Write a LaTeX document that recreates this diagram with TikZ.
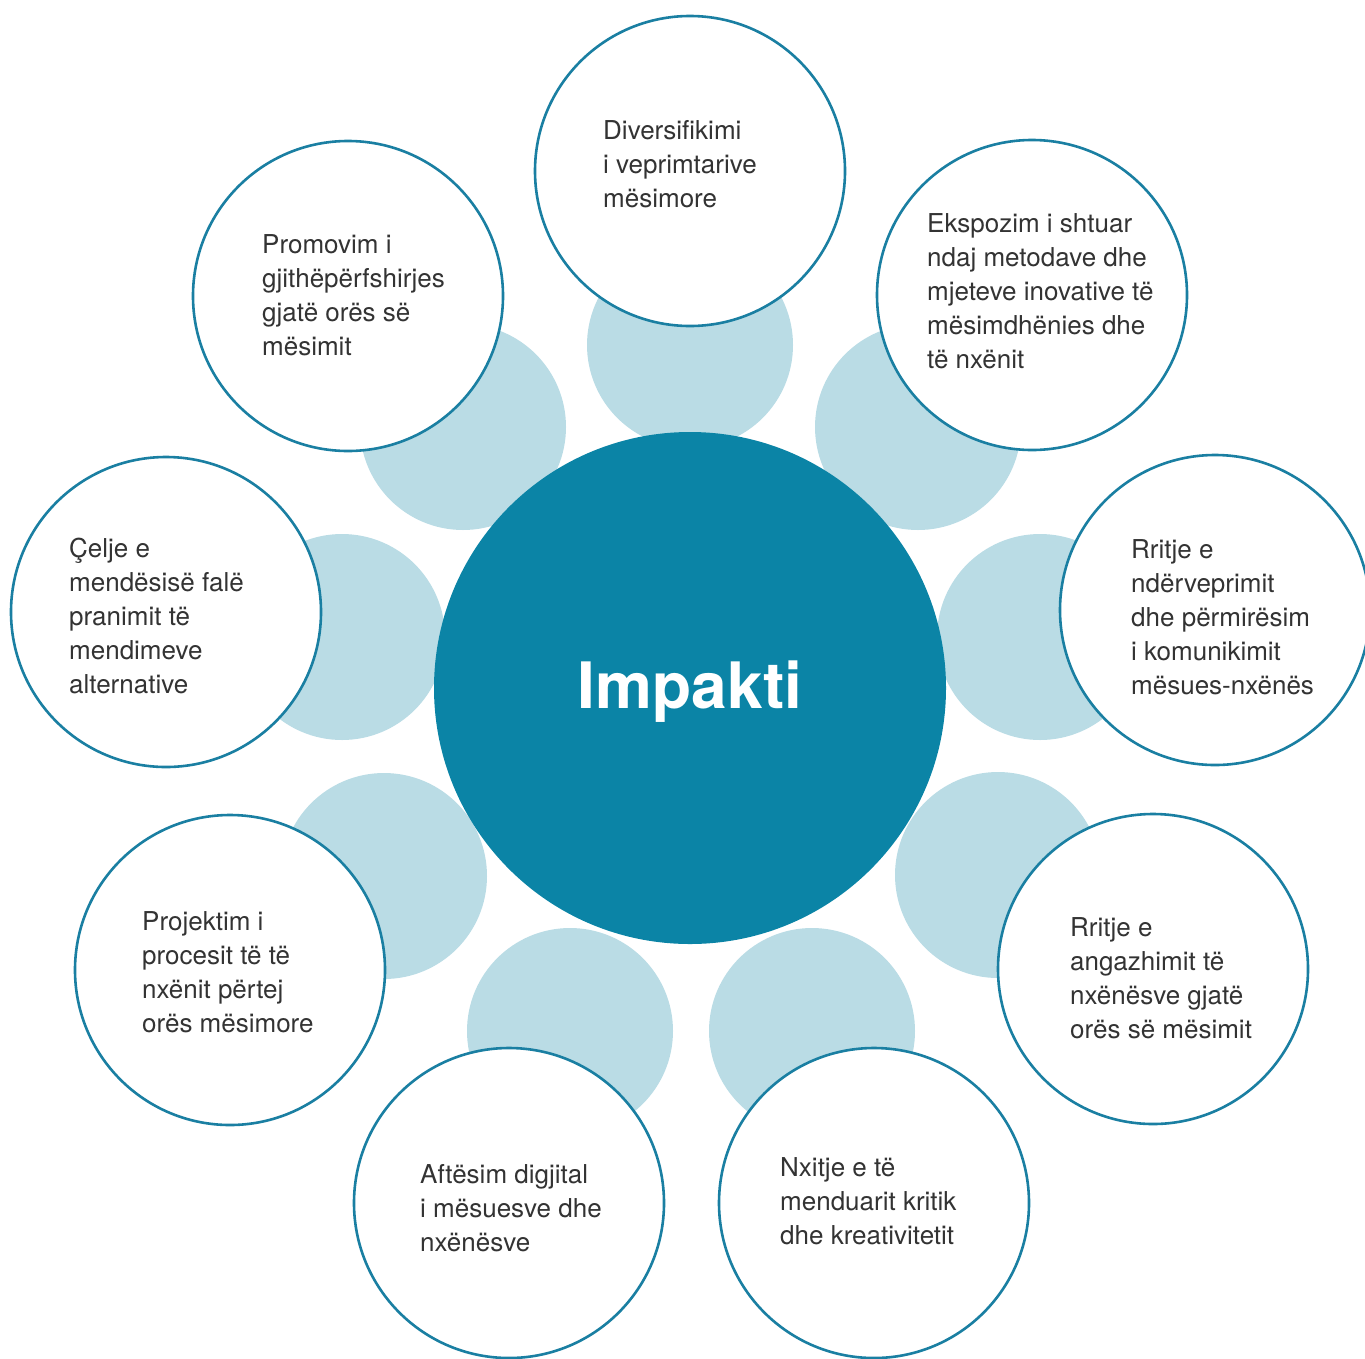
\documentclass[tikz,border=0pt]{standalone}
\usepackage{fontspec}
\setmainfont{TeX Gyre Heros}
\definecolor{darkteal}{HTML}{0B84A6}
\definecolor{lightblue}{HTML}{BADCE5}
\definecolor{ringblue}{HTML}{1A7FA2}
\definecolor{txtgray}{HTML}{333333}
\tikzset{
  bgdisc/.style={circle, fill=lightblue, draw=none, minimum size=206pt, inner sep=0pt},
  ring/.style={circle, fill=white, draw=ringblue, line width=2.6pt, minimum size=310pt, inner sep=0pt},
  hub/.style={circle, fill=darkteal, draw=none, minimum size=512pt, inner sep=0pt},
  lbl/.style={anchor=north west, inner sep=0pt, align=left, text=txtgray,
    font=\fontsize{26}{34}\selectfont},
}
\begin{document}
\begin{tikzpicture}[x=1pt,y=-1pt]
\useasboundingbox (0,0) rectangle (1365,1358);
\clip (0,0) rectangle (1365,1358);
% background discs
\node[bgdisc] (b1) at (690,345) {};
\node[bgdisc] (b2) at (918,427) {};
\node[bgdisc] (b3) at (1040,637) {};
\node[bgdisc] (b4) at (998,875) {};
\node[bgdisc] (b5) at (812,1031) {};
\node[bgdisc] (b6) at (570,1031) {};
\node[bgdisc] (b7) at (384,876) {};
\node[bgdisc] (b8) at (342,637) {};
\node[bgdisc] (b9) at (463,427) {};
% hub
\node[hub] (hub) at (690,688) {};
\node[anchor=base, inner sep=0pt, text=white, font=\fontsize{64}{70}\selectfont\bfseries] (hubt) at (690,708) {Impakti};
% rings
\node[ring] (c1) at (690,171) {};
\node[ring] (c2) at (1032,295) {};
\node[ring] (c3) at (1215,610) {};
\node[ring] (c4) at (1153,969) {};
\node[ring] (c5) at (874,1203) {};
\node[ring] (c6) at (509,1203) {};
\node[ring] (c7) at (230,970) {};
\node[ring] (c8) at (166,612) {};
\node[ring] (c9) at (348,296) {};
% labels (top = first baseline - 23.8)
\node[lbl] (t1) at (603,115.2) {\strut Diversifikimi\\i veprimtarive\\mësimore};
\node[lbl] (t2) at (927,208.2) {\strut Ekspozim i shtuar\\ndaj metodave dhe\\mjeteve inovative të\\mësimdhënies dhe\\të nxënit};
\node[lbl] (t3) at (1131,534.2) {\strut Rritje e\\ndërveprimit\\dhe përmirësim\\i komunikimit\\mësues-nxënës};
\node[lbl] (t4) at (1070,912.2) {\strut Rritje e\\angazhimit të\\nxënësve gjatë\\orës së mësimit};
\node[lbl] (t5) at (780,1152.2) {\strut Nxitje e të\\menduarit kritik\\dhe kreativitetit};
\node[lbl] (t6) at (420,1159.2) {\strut Aftësim digjital\\i mësuesve dhe\\nxënësve};
\node[lbl] (t7) at (142,906.2) {\strut Projektim i\\procesit të të\\nxënit përtej\\orës mësimore};
\node[lbl] (t8) at (69,533.2) {\strut Çelje e\\mendësisë falë\\pranimit të\\mendimeve\\alternative};
\node[lbl] (t9) at (262,229.2) {\strut Promovim i\\gjithëpërfshirjes\\gjatë orës së\\mësimit};
\end{tikzpicture}
\end{document}
